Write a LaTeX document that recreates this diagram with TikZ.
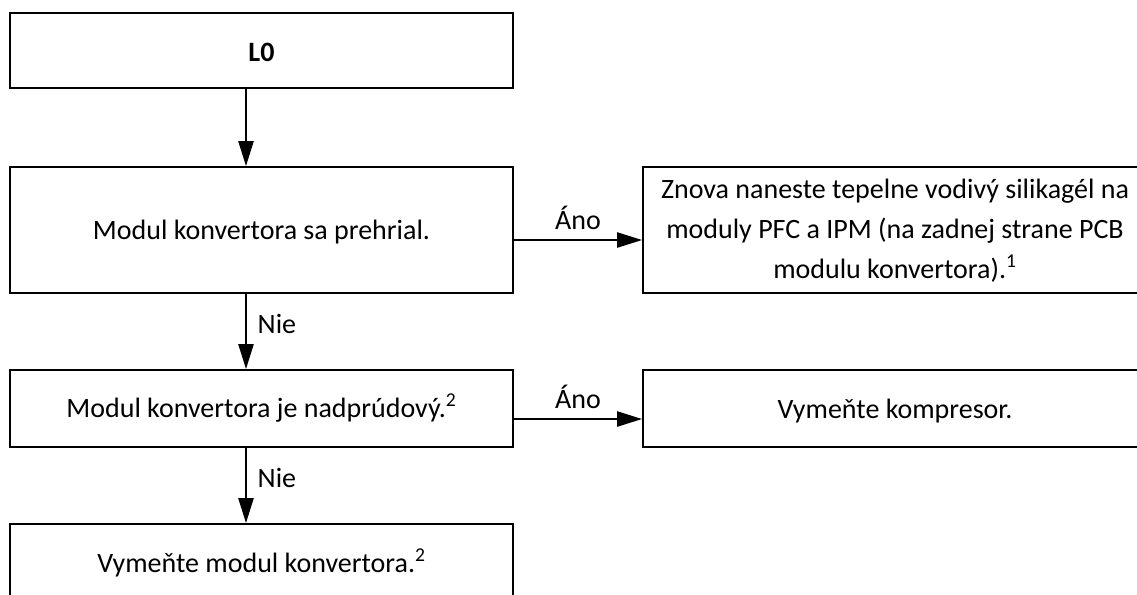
\documentclass[tikz,border=0pt]{standalone}
\usepackage{fontspec}
\setmainfont{Carlito}
\usetikzlibrary{arrows.meta,calc}
\begin{document}
\begin{tikzpicture}[x=0.75pt,y=-0.75pt,
  box/.style={draw, line width=1.5pt, inner sep=0pt, minimum width=377.25pt},
  rbox/.style={draw, line width=1.5pt, inner sep=0pt, minimum width=378pt},
  txt/.style={anchor=base, inner sep=0pt, font=\fontsize{21}{30}\selectfont},
  lbl/.style={inner sep=0pt, font=\fontsize{21}{30}\selectfont},
  arr/.style={line width=1.1pt, -{Triangle[length=18.75pt, width=11.5pt]}}]
\useasboundingbox (0,0) rectangle (1137,594);
% boxes
\node[box, line width=2pt, minimum height=56.25pt] (b0) at (261.5,50.5) {};
\node[box, minimum height=94.5pt] (b1) at (261.5,230) {};
\node[box, minimum height=57.75pt] (b2) at (261.5,408.5) {};
\node[box, minimum height=72pt] (b3) at (261.5,572) {};
\node[rbox, minimum height=94.5pt] (r1) at (895,230) {};
\node[rbox, minimum height=57.75pt] (r2) at (895,408.5) {};
% texts
\node[txt, font=\bfseries\fontsize{21}{25}\selectfont] (t0) at (261.5,61) {L0};
\node[txt] (t1) at (261.5,239) {Modul konvertora sa prehrial.};
\node[txt] (t2) at (261.5,417) {Modul konvertora je nadprúdový.\textsuperscript{2}};
\node[txt] (t3) at (261.5,572) {Vymeňte modul konvertora.\textsuperscript{2}};
\node[txt] (u1a) at (895,198) {Znova naneste tepelne vodivý silikagél na};
\node[txt] (u1b) at (895,238) {moduly PFC a IPM (na zadnej strane PCB};
\node[txt] (u1c) at (895,278) {modulu konvertora).\textsuperscript{1}};
\node[txt] (u2) at (895,418) {Vymeňte kompresor.};
% helper coordinates
\coordinate (ax) at (246,0);
\coordinate (h1) at (0,240);
\coordinate (h2) at (0,419);
% connectors
\draw[arr] (b0.south -| ax) -- (b1.north -| ax);
\draw[arr] (b1.south -| ax) -- (b2.north -| ax)
  node[lbl, midway, anchor=base west, xshift=8.25pt, yshift=-1.2pt] {Nie};
\draw[arr] (b2.south -| ax) -- (b3.north -| ax)
  node[lbl, midway, anchor=base west, xshift=8.25pt, yshift=-1.5pt] {Nie};
\draw[arr] (b1.east |- h1) -- (r1.west |- h1)
  node[lbl, midway, anchor=base, yshift=8.25pt] {Áno};
\draw[arr] (b2.east |- h2) -- (r2.west |- h2)
  node[lbl, midway, anchor=base, yshift=8.25pt] {Áno};
\end{tikzpicture}
\end{document}
